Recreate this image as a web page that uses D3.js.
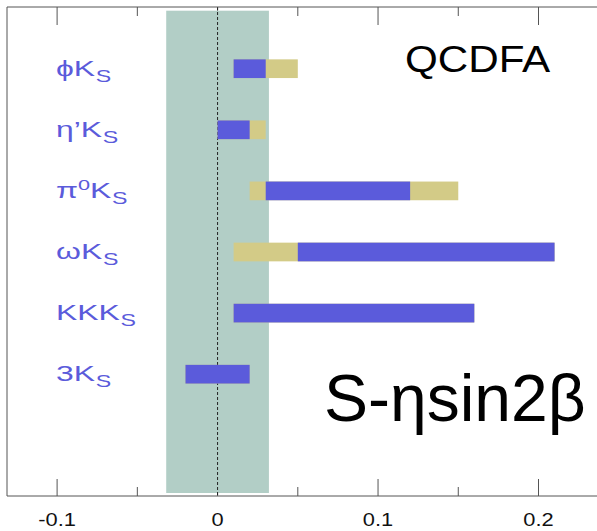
<!DOCTYPE html>
<html>
<head>
<meta charset="utf-8">
<script src="https://cdn.jsdelivr.net/npm/d3@7"></script>
<style>
  html, body { margin: 0; padding: 0; background: #fff; }
  svg { display: block; }
</style>
</head>
<body>
<svg id="chart" width="597" height="531"></svg>
<script>
// Decay modes (top to bottom): prefix before "K", optional superscript, subscript
const modePrefix = ["ϕ", "η’", "π", "ω", "KK", "3"];
const modeSup    = ["", "", "0", "", "", ""];
// Outer (tan) interval of S - η sin2β for each mode
const outerLo = [0.01, 0.00, 0.02, 0.01, 0.01, -0.02];
const outerHi = [0.05, 0.03, 0.15, 0.21, 0.16, 0.02];
// Inner (blue) interval
const innerLo = [0.01, 0.00, 0.03, 0.05, 0.01, -0.02];
const innerHi = [0.03, 0.02, 0.12, 0.21, 0.16, 0.02];
// Experimental band around zero
const bandLo = -0.032, bandHi = 0.032;
// Axis ticks
const majorTicks = [-0.1, 0, 0.1, 0.2];
const minorTicks = [-0.05, 0.05, 0.15];
const tickLabels = ["-0.1", "0", "0.1", "0.2"];

const svg = d3.select("#chart");
const frameL = 7, frameT = 7, frameB = 496, frameR = 597;

const x = d3.scaleLinear().domain([-0.1, 0.2]).range([57.1, 538.5]);
const y = d3.scalePoint().domain(d3.range(modePrefix.length)).range([68.7, 374.2]);
const barH = 18.7;

const BLUE = "#5b5bdb", TAN = "#d3cb87", BAND = "#b2cec6", AX = "#555";

// Ticks along the top and bottom edges (pointing inward)
const axTop = svg.append("g");
const axBot = svg.append("g");
function ticks(g, vals, len, dir, base) {
  g.selectAll(null).data(vals).enter().append("line")
    .attr("x1", d => x(d)).attr("x2", d => x(d))
    .attr("y1", base).attr("y2", base + dir * len)
    .attr("stroke", AX).attr("stroke-width", 1);
}
ticks(axTop, majorTicks, 18, 1, frameT);
ticks(axTop, minorTicks, 9, 1, frameT);
ticks(axBot, majorTicks, 17, -1, frameB);
ticks(axBot, minorTicks, 9, -1, frameB);

// Shaded band
svg.append("rect")
  .attr("x", x(bandLo)).attr("y", 10.7)
  .attr("width", x(bandHi) - x(bandLo)).attr("height", 493 - 10.7)
  .attr("fill", BAND);

// Dashed zero line
svg.append("line")
  .attr("x1", x(0)).attr("x2", x(0)).attr("y1", frameT).attr("y2", frameB)
  .attr("stroke", "#222").attr("stroke-width", 1).attr("stroke-dasharray", "3,2");

// Frame
svg.append("path")
  .attr("d", `M${frameR},${frameT}H${frameL}V${frameB}H${frameR}`)
  .attr("fill", "none").attr("stroke", AX).attr("stroke-width", 1);

// Bars
const idx = d3.range(modePrefix.length);
svg.append("g").selectAll("rect").data(idx).enter().append("rect")
  .attr("x", i => x(outerLo[i])).attr("y", i => y(i) - barH / 2)
  .attr("width", i => x(outerHi[i]) - x(outerLo[i])).attr("height", barH)
  .attr("fill", TAN);
svg.append("g").selectAll("rect").data(idx).enter().append("rect")
  .attr("x", i => x(innerLo[i])).attr("y", i => y(i) - barH / 2)
  .attr("width", i => x(innerHi[i]) - x(innerLo[i])).attr("height", barH)
  .attr("fill", BLUE);

// Mode labels
const FONT = "'Liberation Sans', Arial, sans-serif";
idx.forEach(i => {
  const g = svg.append("g")
    .attr("transform", `translate(56,${y(i) + 7}) scale(1.45,1)`);
  const t = g.append("text").attr("font-family", FONT).attr("font-size", 22)
    .attr("fill", BLUE);
  t.append("tspan").text(modePrefix[i]);
  if (modeSup[i]) {
    t.append("tspan").attr("font-size", 15).attr("dy", -8).text(modeSup[i]);
    t.append("tspan").attr("dy", 8).text("K");
  } else {
    t.append("tspan").text("K");
  }
  t.append("tspan").attr("font-size", 16).attr("dy", 6).attr("dx", 0.5).text("S");
});

// Tick labels
svg.append("g").selectAll("text").data(majorTicks).enter().append("text")
  .attr("transform", d => `translate(${x(d)},526) scale(1.15,1)`)
  .attr("text-anchor", "middle")
  .attr("font-family", FONT).attr("font-size", 19).attr("fill", "#111")
  .text((d, i) => tickLabels[i]);

// Annotations
svg.append("text")
  .attr("transform", "translate(405,72) scale(1.14,1)")
  .attr("font-family", FONT).attr("font-size", 37).attr("fill", "#000")
  .text("QCDFA");
svg.append("text")
  .attr("transform", "translate(324,421)")
  .attr("font-family", FONT).attr("font-size", 66).attr("fill", "#000")
  .text("S-ηsin2β");
</script>
</body>
</html>
